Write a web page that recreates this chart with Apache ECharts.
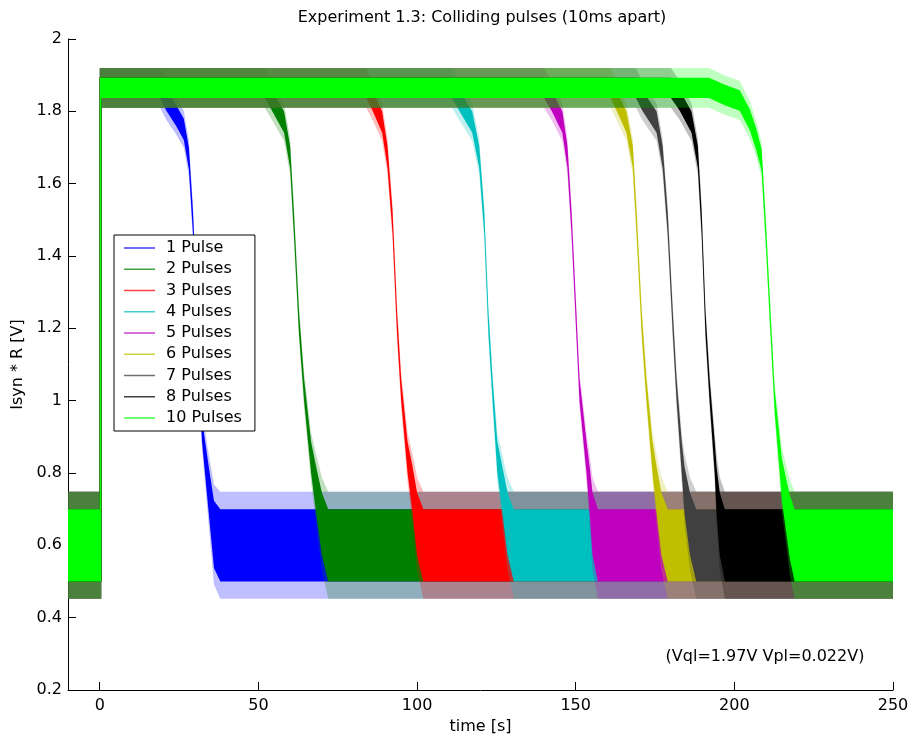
<!DOCTYPE html>
<html>
<head>
<meta charset="utf-8">
<script src="https://cdn.jsdelivr.net/npm/echarts@6/dist/echarts.min.js"></script>
<style>
  html, body { margin: 0; background: #fff; }
  #main { width: 912px; height: 746px; }
</style>
</head>
<body>
<div id="main"></div>
<script>
    // init chart
    var myChart = echarts.init(document.getElementById('main'));

    var names = ['1 Pulse', '2 Pulses', '3 Pulses', '4 Pulses', '5 Pulses',
                 '6 Pulses', '7 Pulses', '8 Pulses', '10 Pulses'];
    var colors = ['#0000ff', '#008000', '#ff0000', '#00bfbf', '#bf00bf',
                  '#bfbf00', '#404040', '#000000', '#00ff00'];

    var xTicks = [0, 50, 100, 150, 200, 250];
    var yTicks = [0.2, 0.4, 0.6, 0.8, 1, 1.2, 1.4, 1.6, 1.8, 2];

    // resting levels of the signal (V)
    var lowLevel = 0.6;
    var highLevel = 1.865;
    // half width of the noise band: [at low level, at high level, on the steep part of the edge]
    var outerHalf = [0.148, 0.055, 0.05];
    var innerHalf = [0.1, 0.028, 0.03];
    // the edge is steep between these two levels, the noise widens outside them
    var steepTop = 1.72, steepBottom = 0.9;

    // falling edge of each trace, [time, V]
    var edge1 = [[19, 1.865], [21, 1.83], [24, 1.79], [26.5, 1.75], [28.1, 1.67], [29.4, 1.49],
                 [30.6, 1.25], [32.2, 0.92], [34.4, 0.75], [36, 0.63], [38, 0.6]];
    var edge2 = [[52, 1.865], [54.3, 1.83], [58.1, 1.77], [60, 1.674], [61.2, 1.49], [62.8, 1.215],
                 [64.4, 1.03], [66.6, 0.844], [68.2, 0.753], [70, 0.66], [72, 0.6]];
    var edge3 = [[84, 1.865], [86, 1.83], [89, 1.77], [90.7, 1.674], [92.3, 1.49], [93.7, 1.215],
                 [95, 1.03], [97, 0.844], [98.6, 0.753], [100, 0.66], [102, 0.6]];
    var edge4 = [[111, 1.865], [113.3, 1.83], [117.4, 1.77], [119.6, 1.674], [121.2, 1.49], [122.5, 1.215],
                 [123.8, 1.03], [125.3, 0.844], [126.9, 0.753], [128.5, 0.66], [130.5, 0.6]];
    var edge5 = [[140, 1.865], [142.4, 1.83], [145.8, 1.77], [147.4, 1.674], [148.7, 1.49], [150.2, 1.215],
                 [151.2, 1.03], [153.4, 0.844], [154.4, 0.753], [155.3, 0.66], [157, 0.6]];
    var edge6 = [[161, 1.865], [162.9, 1.83], [166, 1.77], [168, 1.674], [169.2, 1.49], [170.8, 1.215],
                 [172.3, 1.03], [174.2, 0.844], [175.5, 0.753], [177, 0.66], [179, 0.6]];
    var edge7 = [[169, 1.865], [171, 1.83], [175.5, 1.77], [177.4, 1.674], [179, 1.49], [180.6, 1.215],
                 [181.8, 1.03], [183.4, 0.844], [184.3, 0.753], [186, 0.66], [188, 0.6]];
    var edge8 = [[180, 1.865], [182.8, 1.83], [186.5, 1.77], [188.5, 1.674], [189.7, 1.49], [190.9, 1.215],
                 [192.2, 1.03], [193.8, 0.844], [194.4, 0.753], [195.4, 0.66], [197, 0.6]];
    var edge10 = [[192, 1.865], [197, 1.845], [201.7, 1.83], [204.9, 1.776], [207, 1.72], [208.6, 1.665],
                  [210, 1.45], [211, 1.28], [212.7, 1.0], [215, 0.78], [217.5, 0.65], [219, 0.6]];
    var edges = [edge1, edge2, edge3, edge4, edge5, edge6, edge7, edge8, edge10];

    var tStart = -10, tEnd = 250;

    // whole trace: low before t=0, jump, high, then the falling edge, low to the end
    function tracePath(edge) {
        return [[tStart, lowLevel], [0, lowLevel], [0, highLevel]]
            .concat(edge)
            .concat([[tEnd, lowLevel]]);
    }

    function clamp01(f) { return Math.max(0, Math.min(1, f)); }

    // noise half width at a given signal level
    function halfAt(v, half) {
        if (v >= steepTop) {
            return half[2] + (half[1] - half[2]) * clamp01((v - steepTop) / (highLevel - steepTop));
        }
        if (v <= steepBottom) {
            return half[2] + (half[0] - half[2]) * clamp01((steepBottom - v) / (steepBottom - lowLevel));
        }
        return half[2];
    }

    // upper / lower envelope of the noise band
    function band(path, half) {
        var up = [], dn = [];
        path.forEach(function (p, i) {
            var h = halfAt(p[1], half);
            up.push([p[0], p[1] + h]);
            // lower edge jumps a little later so the step at t=0 shows as a thin line
            dn.push([(i === 1 || i === 2) ? 0.5 : p[0], p[1] - h]);
        });
        return {up: up, dn: dn};
    }

    function bandSeries(i, half, opacity) {
        var path = tracePath(edges[i]);
        var b = band(path, half);
        return {
            type: 'custom',
            name: names[i],
            itemStyle: {color: colors[i]},
            silent: true,
            clip: true,
            encode: {x: 0, y: 1},
            data: path,
            renderItem: function (params, api) {
                if (params.dataIndex > 0) return;
                var pts = b.up.map(function (p) { return api.coord(p); })
                    .concat(b.dn.slice().reverse().map(function (p) { return api.coord(p); }));
                return {
                    type: 'polygon',
                    shape: {points: pts},
                    style: {fill: colors[i], opacity: opacity}
                };
            }
        };
    }

    var series = [];
    for (var i = 0; i < names.length; i++) {
        series.push(bandSeries(i, outerHalf, 0.25));
        series.push(bandSeries(i, innerHalf, 1));
    }

    var font = 'DejaVu Sans';

    option = {
        animation: false,
        textStyle: {fontFamily: font},
        grid: {left: 68, right: 19, top: 39, bottom: 56},
        graphic: [
            {
                type: 'text', x: 482, y: 18, silent: true,
                style: {text: 'Experiment 1.3: Colliding pulses (10ms apart)', fill: '#000',
                        font: '16px "DejaVu Sans"', align: 'center', verticalAlign: 'middle'}
            },
            {
                type: 'text', x: 765, y: 657, silent: true,
                style: {text: '(Vql=1.97V Vpl=0.022V)', fill: '#000',
                        font: '16px "DejaVu Sans"', align: 'center', verticalAlign: 'middle'}
            }
        ],
        legend: {
            orient: 'vertical',
            left: 114,
            top: 235,
            icon: 'rect',
            itemWidth: 31,
            itemHeight: 1.5,
            itemGap: 2.25,
            padding: [3.5, 13, 3.5, 10],
            borderColor: '#000',
            borderWidth: 1,
            borderRadius: 0,
            backgroundColor: '#fff',
            selectedMode: false,
            textStyle: {color: '#000', fontSize: 16, lineHeight: 19, fontFamily: font, padding: [0, 0, 0, 6]},
            data: names.map(function (n, i) {
                return {name: n, itemStyle: {color: colors[i], opacity: 0.75}};
            })
        },
        xAxis: {
            type: 'value',
            min: tStart,
            max: tEnd,
            name: 'time [s]',
            nameLocation: 'middle',
            nameGap: 29,
            nameTextStyle: {color: '#000', fontSize: 16, fontFamily: font},
            splitLine: {show: false},
            axisLine: {show: true, onZero: false, lineStyle: {color: '#000', width: 1}},
            axisTick: {show: true, inside: true, length: 8, customValues: xTicks, lineStyle: {color: '#000'}},
            axisLabel: {color: '#000', fontSize: 16, fontFamily: font, margin: 8, customValues: xTicks}
        },
        yAxis: {
            type: 'value',
            min: 0.2,
            max: 2,
            name: 'Isyn * R [V]',
            nameLocation: 'middle',
            nameGap: 36,
            nameTextStyle: {color: '#000', fontSize: 16, fontFamily: font},
            splitLine: {show: false},
            axisLine: {show: true, onZero: false, lineStyle: {color: '#000', width: 1}},
            axisTick: {show: true, inside: true, length: 8, customValues: yTicks, lineStyle: {color: '#000'}},
            axisLabel: {color: '#000', fontSize: 16, fontFamily: font, margin: 6, customValues: yTicks}
        },
        series: series
    };

    myChart.setOption(option);
</script>
</body>
</html>
